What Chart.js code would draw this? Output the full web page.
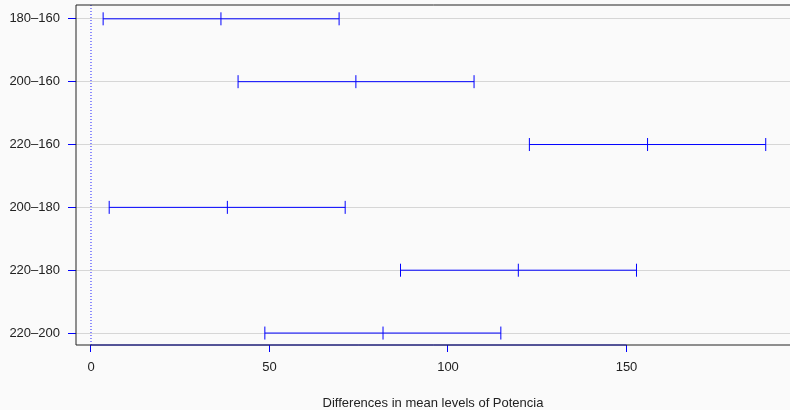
<!DOCTYPE html>
<html>
<head>
<meta charset="utf-8">
<script src="https://cdn.jsdelivr.net/npm/chart.js@4.4.0/dist/chart.umd.min.js"></script>
<style>
  html, body { margin: 0; padding: 0; background: #fafafa; }
  #wrap { width: 790px; height: 410px; }
</style>
</head>
<body>
<div id="wrap"><canvas id="tukeyChart" width="790" height="410"></canvas></div>
<script>
// Comparaciones de Tukey (diferencias de medias)
const comparisons = ['180–160', '200–160', '220–160', '200–180', '220–180', '220–200'];
const diffs  = [36.4, 74.2, 155.9, 38.2, 119.7, 81.8];
const lowers = [3.4, 41.2, 122.8, 5.1, 86.7, 48.7];
const uppers = [69.5, 107.3, 189.0, 71.2, 152.8, 114.8];
const xTicks = [0, 50, 100, 150];

const X_MIN = -4.2, X_MAX = 195.8;
const Y_MIN = 0.78, Y_MAX = 6.19;

const blue = '#0000ff';

// un dataset por intervalo
const datasets = comparisons.map((name, i) => ({
    label: name,
    data: [
        { x: lowers[i], y: i + 1 },
        { x: diffs[i], y: i + 1 },
        { x: uppers[i], y: i + 1 }
    ],
    showLine: true,
    borderColor: blue,
    borderWidth: 1,
    pointStyle: 'line',
    rotation: 90,
    pointRadius: 6.5,
    pointHoverRadius: 6.5,
    pointBorderColor: blue,
    pointBorderWidth: 1
}));

// linea de referencia en cero
datasets.push({
    label: 'cero',
    data: [{ x: 0, y: Y_MIN }, { x: 0, y: Y_MAX }],
    showLine: true,
    borderColor: '#2222ff',
    borderWidth: 1,
    borderDash: [1, 2],
    pointRadius: 0
});

// caja del grafico: lados superior, izquierdo e inferior
const framePlugin = {
    id: 'frame',
    afterDraw(chart) {
        const { ctx, chartArea } = chart;
        const xs = chart.scales.x;
        const l = chartArea.left, t = chartArea.top, b = chartArea.bottom;
        const r = chart.width + 5;
        ctx.save();
        ctx.strokeStyle = '#222';
        ctx.lineWidth = 1;
        ctx.beginPath();
        ctx.moveTo(l, t);
        ctx.lineTo(r, t);
        ctx.moveTo(l, t);
        ctx.lineTo(l, b);
        ctx.lineTo(r, b);
        ctx.stroke();
        // eje inferior en azul entre los ticks
        ctx.strokeStyle = '#1a1aa0';
        ctx.beginPath();
        ctx.moveTo(xs.getPixelForValue(xTicks[0]), b);
        ctx.lineTo(xs.getPixelForValue(xTicks[xTicks.length - 1]), b);
        ctx.stroke();
        ctx.restore();
    }
};

const noPadding = (scale) => {
    scale.paddingTop = 0;
    scale.paddingBottom = 0;
    scale.paddingLeft = 0;
    scale.paddingRight = 0;
};

const font = { family: '"Liberation Sans", Arial, sans-serif', size: 13 };

new Chart(document.getElementById('tukeyChart').getContext('2d'), {
    type: 'scatter',
    data: { datasets: datasets },
    options: {
        responsive: false,
        animation: false,
        events: [],
        layout: { autoPadding: false, padding: { top: 5, right: 0, left: 0, bottom: 0 } },
        plugins: {
            legend: { display: false },
            tooltip: { enabled: false }
        },
        scales: {
            x: {
                type: 'linear',
                min: X_MIN,
                max: X_MAX,
                afterBuildTicks: (scale) => { scale.ticks = xTicks.map(v => ({ value: v })); },
                afterFit: (scale) => { scale.height = 65; noPadding(scale); },
                grid: {
                    drawOnChartArea: false,
                    tickColor: blue,
                    tickLength: 7,
                    lineWidth: 1
                },
                border: { display: false },
                ticks: { color: '#222', font: font, padding: 8, maxRotation: 0 },
                title: {
                    display: true,
                    text: 'Differences in mean levels of Potencia',
                    color: '#222',
                    font: font,
                    padding: { top: 0, bottom: -1 }
                }
            },
            y: {
                type: 'linear',
                reverse: true,
                min: Y_MIN,
                max: Y_MAX,
                afterBuildTicks: (scale) => { scale.ticks = comparisons.map((_, i) => ({ value: i + 1 })); },
                afterFit: (scale) => { scale.width = 76; noPadding(scale); },
                grid: {
                    color: '#d6d6d6',
                    tickColor: blue,
                    tickLength: 8,
                    lineWidth: 1
                },
                border: { display: false },
                ticks: {
                    color: '#222',
                    font: font,
                    padding: 8,
                    callback: (v) => comparisons[v - 1]
                }
            }
        }
    },
    plugins: [framePlugin]
});
</script>
</body>
</html>
